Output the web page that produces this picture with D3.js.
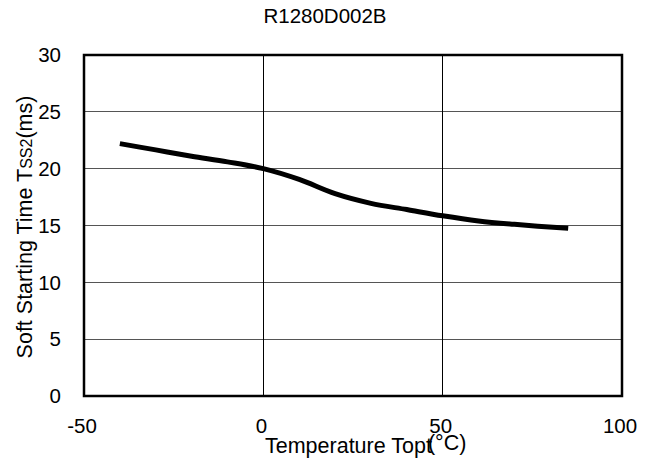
<!DOCTYPE html>
<html>
<head>
<meta charset="utf-8">
<script src="https://cdn.jsdelivr.net/npm/d3@7"></script>
<style>
  html, body { margin: 0; padding: 0; background: #fff; }
  svg { display: block; }
  text { font-family: "Liberation Sans", Arial, sans-serif; fill: #000; }
</style>
</head>
<body>
<svg id="chart" width="658" height="463"></svg>
<script>
const chartTitle = "R1280D002B";
const temperatures = [-40, -30, -20, -10, 0, 10, 20, 30, 40, 50, 60, 70, 85];
const softStartTimes = [22.2, 21.65, 21.1, 20.6, 20.0, 19.05, 17.8, 16.95, 16.4, 15.85, 15.4, 15.1, 14.75];
const xTicks = [-50, 0, 50, 100];
const yTicks = [0, 5, 10, 15, 20, 25, 30];

const svg = d3.select("#chart");
const margin = { left: 84, right: 36, top: 55, bottom: 67 };
const W = 658, H = 463;
const x = d3.scaleLinear().domain([-50, 100]).range([margin.left, W - margin.right]);
const y = d3.scaleLinear().domain([0, 30]).range([H - margin.bottom, margin.top]);

// horizontal gridlines
svg.append("g").selectAll("line").data(yTicks.slice(1, -1)).join("line")
  .attr("x1", x(-50)).attr("x2", x(100))
  .attr("y1", d => y(d)).attr("y2", d => y(d))
  .attr("stroke", "#555").attr("stroke-width", 1).attr("shape-rendering", "crispEdges");
// vertical gridlines
svg.append("g").selectAll("line").data(xTicks.slice(1, -1)).join("line")
  .attr("x1", d => x(d)).attr("x2", d => x(d))
  .attr("y1", y(0)).attr("y2", y(30))
  .attr("stroke", "#000").attr("stroke-width", 1).attr("shape-rendering", "crispEdges");

// frame
svg.append("rect")
  .attr("x", x(-50)).attr("y", y(30))
  .attr("width", x(100) - x(-50)).attr("height", y(0) - y(30))
  .attr("fill", "none").attr("stroke", "#000").attr("stroke-width", 2.5);

// y tick labels
svg.append("g").selectAll("text").data(yTicks).join("text")
  .attr("x", 61).attr("y", d => y(d)).attr("dy", "0.35em")
  .attr("text-anchor", "end").attr("font-size", 20.5)
  .text(d => d);

// x tick labels
svg.append("g").selectAll("text").data(xTicks).join("text")
  .attr("x", d => x(d) - 2).attr("y", 433)
  .attr("text-anchor", "middle").attr("font-size", 20.5)
  .text(d => d);

// title
svg.append("text").attr("x", 325).attr("y", 23)
  .attr("text-anchor", "middle").attr("font-size", 20.5)
  .text(chartTitle);

// x axis title
const xt = svg.append("text").attr("x", 265).attr("y", 453).attr("font-size", 21.5);
xt.append("tspan").text("Temperature Topt");
xt.append("tspan").attr("dx", -4).attr("dy", -3).text("(°C)");

// y axis title
const yt = svg.append("text")
  .attr("transform", `translate(32, ${227}) rotate(-90)`)
  .attr("text-anchor", "middle").attr("font-size", 21.5);
yt.append("tspan").text("Soft Starting Time T");
yt.append("tspan").attr("font-size", 16).text("SS2");
yt.append("tspan").text("(ms)");

// data line
const line = d3.line()
  .x((d, i) => x(temperatures[i]))
  .y(d => y(d))
  .curve(d3.curveCatmullRom.alpha(0.5));
svg.append("path").datum(softStartTimes)
  .attr("d", line)
  .attr("fill", "none").attr("stroke", "#000").attr("stroke-width", 5)
  .attr("stroke-linejoin", "round");
</script>
</body>
</html>
